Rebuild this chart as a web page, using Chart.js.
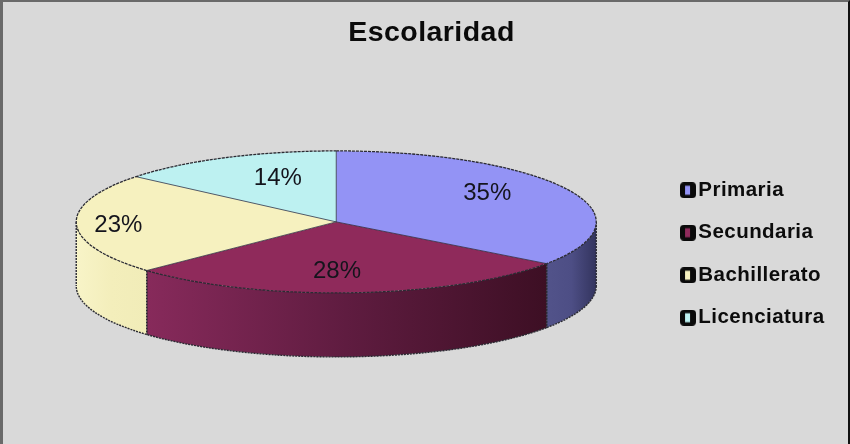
<!DOCTYPE html>
<html lang="es">
<head>
<meta charset="utf-8">
<title>Escolaridad</title>
<script src="https://cdn.jsdelivr.net/npm/chart.js@4"></script>
<style>
  html, body { margin: 0; padding: 0; background: #d9d9d9; overflow: hidden; }
  canvas { display: block; position: absolute; left: 0; top: 0; }
  #frame {
    position: absolute; left: 0; top: 0; width: 850px; height: 444px;
    box-sizing: border-box; pointer-events: none;
    border-left: 3px solid #6a6a6a; border-top: 2px solid #6a6a6a; border-right: 2px solid #111;
  }
</style>
</head>
<body>
<canvas id="pie" width="850" height="444"></canvas>
<div id="frame"></div>
<script>
  const chartTitle = 'Escolaridad';
  const categories = ['Primaria', 'Secundaria', 'Bachillerato', 'Licenciatura'];
  const shares = [35, 28, 23, 14];

  const topColors = ['#9393f5', '#8f2a5b', '#f6f1bf', '#bdf1f1'];
  // Side wall shading, listed from the wall's right end to its left end.
  const wallShades = [
    ['#33345e', '#4d4e85', '#52538a'],
    ['#3d0f24', '#5f1c40', '#872a5b'],
    ['#f1ecb8', '#f3eebb', '#f8f4c8'],
    ['#bdf1f1', '#bdf1f1', '#bdf1f1']
  ];
  // Nudge of each percentage from the middle of its slice, in pixels.
  const labelNudges = [[12, -9], [-9, 7], [-62, 2], [8, -5]];

  const RADIUS = 260;
  const SQUASH = 71 / 260;
  const DEPTH = 64;
  const EDGE = '#2b2b33';

  function markerFor(color) {
    const c = document.createElement('canvas');
    c.width = 16; c.height = 16;
    const g = c.getContext('2d');
    g.fillStyle = '#0a0a0a';
    g.beginPath(); g.roundRect(0, 0, 16, 16, 4); g.fill();
    g.fillStyle = color;
    g.fillRect(5, 3.5, 5, 9);
    return c;
  }
  const markers = topColors.map(markerFor);

  // Draws the pie as a squashed disc: walls first, then the flattened arcs,
  // then the rim and the percentages on top.
  const tiltedDisc = {
    id: 'tiltedDisc',
    beforeLayout(chart) {
      chart.ctx.letterSpacing = '0.45px';
    },
    afterLayout(chart) {
      const legend = chart.legend;
      const pad = legend.options.labels.padding;
      const w = legend.width;
      legend.left = 688 - pad; legend.right = legend.left + w;
      const h = legend.height;
      legend.top = 180 - pad; legend.bottom = legend.top + h;
      const t = chart.titleBlock;
      const shift = 431.5 - (t.left + t.right) / 2;
      t.left += shift; t.right += shift;
    },
    beforeDatasetsDraw(chart) {
      const ctx = chart.ctx;
      const arcs = chart.getDatasetMeta(0).data;
      arcs.forEach((arc, i) => {
        const a0 = Math.max(arc.startAngle, 0);
        const a1 = Math.min(arc.endAngle, Math.PI);
        if (a1 <= a0) return;
        const r = arc.outerRadius, ry = r * SQUASH;
        const xRight = arc.x + r * Math.cos(a0);
        const xLeft = arc.x + r * Math.cos(a1);
        const shade = ctx.createLinearGradient(xRight, 0, xLeft, 0);
        wallShades[i].forEach((c, k) => shade.addColorStop(k / (wallShades[i].length - 1), c));
        ctx.save();
        ctx.beginPath();
        ctx.ellipse(arc.x, arc.y, r, ry, 0, a0, a1);
        ctx.ellipse(arc.x, arc.y + DEPTH, r, ry, 0, a1, a0, true);
        ctx.closePath();
        ctx.fillStyle = shade;
        ctx.fill();
        // Dotted rim along the bottom and dark seam on the slice boundaries.
        ctx.strokeStyle = EDGE;
        ctx.lineWidth = 1.4;
        ctx.setLineDash([2, 1]);
        ctx.beginPath();
        ctx.ellipse(arc.x, arc.y + DEPTH, r, ry, 0, a0, a1);
        ctx.moveTo(xLeft, arc.y + ry * Math.sin(a1));
        ctx.lineTo(xLeft, arc.y + ry * Math.sin(a1) + DEPTH);
        ctx.moveTo(xRight, arc.y + ry * Math.sin(a0));
        ctx.lineTo(xRight, arc.y + ry * Math.sin(a0) + DEPTH);
        ctx.stroke();
        ctx.restore();
      });
      const first = arcs[0];
      ctx.save();
      ctx.translate(0, first.y);
      ctx.scale(1, SQUASH);
      ctx.translate(0, -first.y);
    },
    afterDatasetsDraw(chart) {
      const ctx = chart.ctx;
      ctx.restore();
      const arcs = chart.getDatasetMeta(0).data;
      ctx.save();
      ctx.letterSpacing = '0px';
      arcs.forEach((arc) => {
        const r = arc.outerRadius, ry = r * SQUASH;
        ctx.strokeStyle = EDGE;
        ctx.lineWidth = 1.3;
        ctx.setLineDash([3, 1]);
        ctx.beginPath();
        ctx.ellipse(arc.x, arc.y, r, ry, 0, arc.startAngle, arc.endAngle);
        ctx.stroke();
        ctx.strokeStyle = 'rgba(40,40,60,0.75)';
        ctx.lineWidth = 1;
        ctx.setLineDash([]);
        ctx.beginPath();
        ctx.moveTo(arc.x, arc.y);
        ctx.lineTo(arc.x + r * Math.cos(arc.startAngle), arc.y + ry * Math.sin(arc.startAngle));
        ctx.stroke();
      });
      ctx.fillStyle = '#14141c';
      ctx.font = '24px "Liberation Sans", Arial, sans-serif';
      ctx.textAlign = 'center';
      ctx.textBaseline = 'middle';
      arcs.forEach((arc, i) => {
        const mid = (arc.startAngle + arc.endAngle) / 2;
        const rr = arc.outerRadius * 0.6;
        const x = arc.x + rr * Math.cos(mid) + labelNudges[i][0];
        const y = arc.y + rr * SQUASH * Math.sin(mid) + labelNudges[i][1];
        ctx.fillText(shares[i] + '%', x, y);
      });
      ctx.restore();
    }
  };

  new Chart(document.getElementById('pie'), {
    type: 'pie',
    data: {
      labels: categories,
      datasets: [{
        data: shares,
        backgroundColor: topColors,
        borderWidth: 0,
        clip: false
      }]
    },
    options: {
      responsive: false,
      animation: false,
      radius: RADIUS,
      rotation: 0,
      layout: { padding: { left: 0, right: 9, top: 0, bottom: 65 } },
      events: [],
      plugins: {
        tooltip: { enabled: false },
        title: {
          display: true,
          text: chartTitle,
          color: '#0a0a0a',
          font: { family: '"Liberation Sans", Arial, sans-serif', size: 28.5, weight: 'bold' },
          padding: { top: 16, bottom: 14.6 }
        },
        legend: {
          display: true,
          position: 'right',
          align: 'start',
          labels: {
            color: '#0c0c0c',
            font: { family: '"Liberation Sans", Arial, sans-serif', size: 20.5, weight: 'bold' },
            padding: 22,
            usePointStyle: true,
            pointStyleWidth: 0.1,
            generateLabels(chart) {
              return Chart.overrides.pie.plugins.legend.labels.generateLabels(chart)
                .map((item, i) => Object.assign(item, { pointStyle: markers[i] }));
            }
          }
        }
      }
    },
    plugins: [tiltedDisc]
  });
</script>
</body>
</html>
